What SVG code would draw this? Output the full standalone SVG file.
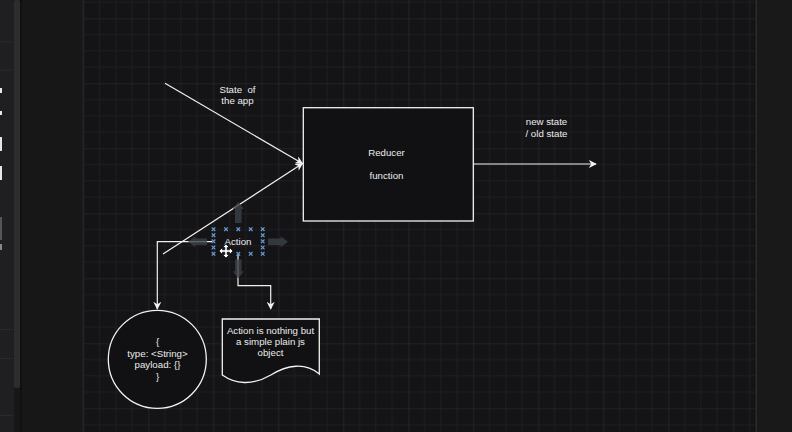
<svg xmlns="http://www.w3.org/2000/svg" width="792" height="432" viewBox="0 0 792 432">
<defs>
<style>
.ln{fill:none;stroke:#f0f0f0;stroke-width:1.2}
.tx{font-family:"Liberation Sans",Arial,Helvetica,sans-serif;font-size:9.7px;fill:#ececec;text-anchor:middle}
.sh{fill:#111113;stroke:#f2f2f2;stroke-width:1.3}
.ha{fill:#3a414a;opacity:.8}
.ui{fill:#2a2a2d}
.mk{fill:#e6e6e6}
</style>
<pattern id="grid" x="83.33" y="18.33" width="65" height="65" patternUnits="userSpaceOnUse">
<rect width="65" height="65" fill="#141417"/>
<path d="M16.25 0V65M32.5 0V65M48.75 0V65M0 16.25H65M0 32.5H65M0 48.75H65" stroke="#1e1e22" stroke-width="1"/>
<path d="M0 0V65M0 0H65" stroke="#2d2d31" stroke-width="1.2"/>
</pattern>
<marker id="arr" viewBox="0 0 10 10" refX="9" refY="5" markerWidth="8" markerHeight="8" markerUnits="userSpaceOnUse" orient="auto">
<path d="M0 0L10 5L0 10L3 5z" fill="#f2f2f2"/>
</marker>
<path id="xm" d="M-1.8 -1.8L1.8 1.8M-1.8 1.8L1.8 -1.8" stroke="#6b9bd1" stroke-width="1.2"/>
</defs>

<!-- app chrome -->
<g id="chrome">
<rect x="0" y="0" width="792" height="432" fill="#171717"/>
<rect x="0" y="0" width="14" height="432" fill="#1f1f22"/>
<rect x="14" y="0" width="6" height="388" rx="2" fill="#2d2d30"/>
<rect x="20" y="0" width="2" height="432" fill="#111"/>
<rect x="0" y="41.5" width="13" height="1" class="ui"/>
<rect x="0" y="69.5" width="13" height="1" class="ui"/>
<rect x="0" y="329" width="13" height="1" class="ui"/>
<rect x="0" y="358" width="13" height="1" class="ui"/>
<rect x="0" y="415" width="13" height="1" class="ui"/>
<rect x="0" y="88" width="2" height="5" class="mk"/>
<rect x="0" y="111" width="2" height="4" class="mk"/>
<rect x="0" y="137" width="2" height="14" class="mk"/>
<rect x="0" y="166" width="2" height="14" class="mk"/>
<rect x="0" y="217" width="2" height="23" fill="#555"/>
<rect x="0" y="244" width="2" height="6" fill="#888"/>
<rect x="83" y="0" width="673" height="432" fill="url(#grid)"/>
<rect x="82.5" y="0" width="1" height="432" fill="#262629"/>
<rect x="756" y="0" width="36" height="432" fill="#19191a"/>
<rect x="755.5" y="0" width="1.5" height="432" fill="#2b2b2e"/>
</g>

<!-- connectors -->
<g id="connectors">
<line class="ln" x1="165" y1="83.3" x2="302.5" y2="163.5" marker-end="url(#arr)"/>
<line class="ln" x1="163" y1="254" x2="302.5" y2="163.5" marker-end="url(#arr)"/>
<line class="ln" x1="473.3" y1="164" x2="596" y2="164" marker-end="url(#arr)"/>
<polyline class="ln" points="212,241.7 157.3,241.7 157.3,309" marker-end="url(#arr)"/>
<polyline class="ln" points="238,254.3 238,285.7 270.7,285.7 270.7,309" marker-end="url(#arr)"/>
</g>

<!-- edge labels -->
<g id="label-state">
<text class="tx" x="237.5" y="92.8" style="white-space:pre">State  of</text>
<text class="tx" x="237.5" y="104">the app</text>
</g>
<g id="label-newstate">
<text class="tx" x="546.5" y="125.3">new state</text>
<text class="tx" x="546.5" y="137">/ old state</text>
</g>

<!-- reducer node -->
<g id="reducer">
<rect class="sh" x="303.3" y="107.7" width="170" height="113.3"/>
<text class="tx" x="386.5" y="156">Reducer</text>
<text class="tx" x="386.5" y="179">function</text>
</g>

<!-- action node (selected) -->
<g id="action">
<path class="ha" d="M238.3 201.7L243.8 209L241.5 209L241.5 223L235 223L235 209L232.8 209Z"/>
<path class="ha" d="M288 241.7L280.7 236.2L280.7 238.5L268 238.5L268 245L280.7 245L280.7 247.2Z"/>
<path class="ha" d="M238.3 278.5L243.8 271.2L241.5 271.2L241.5 259.5L235 259.5L235 271.2L232.8 271.2Z"/>
<path class="ha" d="M188 241.7L195.3 236.2L195.3 238.5L207 238.5L207 245L195.3 245L195.3 247.2Z" opacity=".55"/>
<text class="tx" x="238" y="245">Action</text>
<use href="#xm" x="213.5" y="229.2"/><use href="#xm" x="226" y="229.2"/><use href="#xm" x="238.3" y="229.2"/><use href="#xm" x="250.7" y="229.2"/><use href="#xm" x="262.7" y="229.2"/>
<use href="#xm" x="213.5" y="253.8"/><use href="#xm" x="238.3" y="253.8"/><use href="#xm" x="250.7" y="253.8"/><use href="#xm" x="262.7" y="253.8"/>
<use href="#xm" x="213.5" y="235.2"/><use href="#xm" x="213.5" y="241.3"/><use href="#xm" x="213.5" y="247.5"/>
<use href="#xm" x="262.7" y="235.2"/><use href="#xm" x="262.7" y="241.3"/><use href="#xm" x="262.7" y="247.5"/>
<path d="M226 244L229.5 247.5L227.2 247.5L227.2 249.8L229.5 249.8L229.5 247.5L233 251L229.5 254.5L229.5 252.2L227.2 252.2L227.2 254.5L229.5 254.5L226 258L222.5 254.5L224.8 254.5L224.8 252.2L222.5 252.2L222.5 254.5L219 251L222.5 247.5L222.5 249.8L224.8 249.8L224.8 247.5L222.5 247.5Z" fill="#fff" stroke="#000" stroke-width=".7"/>
</g>

<!-- object circle -->
<g id="object">
<circle class="sh" cx="157.3" cy="359.3" r="49"/>
<text class="tx" x="157.5" y="345">{</text>
<text class="tx" x="157.5" y="356.7">type: &lt;String&gt;</text>
<text class="tx" x="157.5" y="368.3">payload: {}</text>
<text class="tx" x="157.5" y="379.7">}</text>
</g>

<!-- note document -->
<g id="note">
<path class="sh" d="M222.3 319H319.3V374C305 362 287 365 270.8 375C252 386 235 384 222.3 375Z"/>
<text class="tx" x="270.5" y="334">Action is nothing but</text>
<text class="tx" x="270.5" y="345.3">a simple plain js</text>
<text class="tx" x="270.5" y="356.3">object</text>
</g>
</svg>
